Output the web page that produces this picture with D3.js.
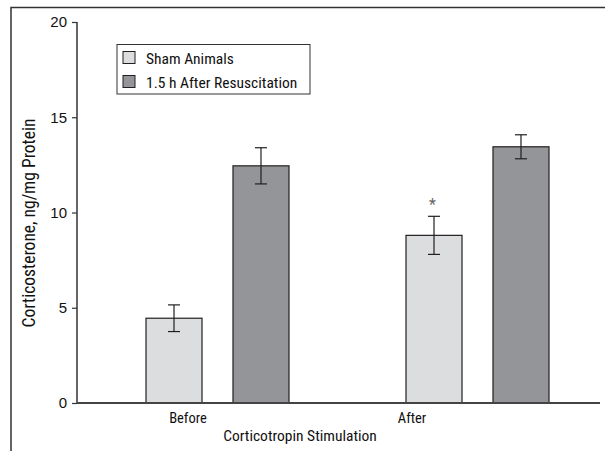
<!DOCTYPE html>
<html>
<head>
<meta charset="utf-8">
<script src="https://cdn.jsdelivr.net/npm/d3@7"></script>
<style>
  body { margin: 0; background: #fff; }
  svg { display: block; font-family: "Liberation Sans Narrow", "Arial Narrow", "Roboto Condensed", "Liberation Sans", sans-serif; }
</style>
</head>
<body>
<div id="chart"></div>
<script>
const categories = ['Before', 'After'];
const seriesNames = ['Sham Animals', '1.5 h After Resuscitation'];
const shamValues = [4.45, 8.8];
const shamErrors = [0.7, 1.0];
const resusValues = [12.45, 13.45];
const resusErrors = [0.95, 0.63];
const significant = [false, true]; // sham vs. resus markers
const yTicks = [0, 5, 10, 15, 20];

const width = 605, height = 451;
const margin = { left: 77, right: 3, top: 22, bottom: 48 };
const innerW = width - margin.left - margin.right;
const innerH = height - margin.top - margin.bottom;

const colors = ['#dcdddf', '#939598'];

const svg = d3.select('#chart').append('svg')
  .attr('width', width)
  .attr('height', height);

// frame (top and left edges)
svg.append('path')
  .attr('d', 'M11,451V7.5H605')
  .attr('fill', 'none')
  .attr('stroke', '#333')
  .attr('stroke-width', 1.5);

const g = svg.append('g')
  .attr('transform', 'translate(' + margin.left + ',' + margin.top + ')');

const x0 = d3.scaleBand().domain(categories).range([69, 472]).paddingInner(0.45).paddingOuter(0);
const x1 = d3.scaleBand().domain([0, 1]).range([0, x0.bandwidth()]).paddingInner(0.356);
const y = d3.scaleLinear().domain([0, 20]).range([innerH, 0]);

const data = categories.map((c, i) => ({
  cat: c,
  bars: [
    { s: 0, v: shamValues[i], e: shamErrors[i] },
    { s: 1, v: resusValues[i], e: resusErrors[i] }
  ]
}));

const groups = g.selectAll('.grp')
  .data(data)
  .enter()
  .append('g')
  .attr('class', 'grp')
  .attr('transform', d => 'translate(' + x0(d.cat) + ',0)');

groups.selectAll('rect')
  .data(d => d.bars)
  .enter()
  .append('rect')
  .attr('x', d => x1(d.s))
  .attr('y', d => y(d.v))
  .attr('width', x1.bandwidth())
  .attr('height', d => y(0) - y(d.v))
  .attr('fill', d => colors[d.s])
  .attr('stroke', '#231f20')
  .attr('stroke-width', 1.2);

// error bars
const err = groups.selectAll('.err')
  .data(d => d.bars)
  .enter()
  .append('g')
  .attr('class', 'err')
  .attr('stroke', '#231f20')
  .attr('stroke-width', 1.2);
const cx = d => x1(d.s) + x1.bandwidth() / 2;
err.append('line')
  .attr('x1', cx).attr('x2', cx)
  .attr('y1', d => y(d.v + d.e)).attr('y2', d => y(d.v - d.e));
err.append('line')
  .attr('x1', d => cx(d) - 6).attr('x2', d => cx(d) + 6)
  .attr('y1', d => y(d.v + d.e)).attr('y2', d => y(d.v + d.e));
err.append('line')
  .attr('x1', d => cx(d) - 6).attr('x2', d => cx(d) + 6)
  .attr('y1', d => y(d.v - d.e)).attr('y2', d => y(d.v - d.e));

// significance asterisk
groups.filter((d, i) => significant[i])
  .append('text')
  .attr('x', d => cx(d.bars[0]) - 1.5)
  .attr('y', d => y(d.bars[0].v + d.bars[0].e) - 6)
  .attr('text-anchor', 'middle')
  .attr('font-size', 16)
  .attr('fill', '#666')
  .text('*');

// axes
const yAxis = d3.axisLeft(y).tickValues(yTicks).tickSize(5).tickPadding(5);
g.append('g')
  .call(yAxis)
  .call(a => a.select('.domain').attr('stroke', '#333').attr('stroke-width', 1.5).attr('d', 'M0,0V' + innerH))
  .call(a => a.selectAll('.tick line').attr('stroke', '#333').attr('stroke-width', 1.2))
  .call(a => a.selectAll('.tick text').attr('font-size', 15).attr('fill', '#111').attr('font-family', 'inherit'));

g.append('line')
  .attr('x1', 0).attr('x2', innerW - 2)
  .attr('y1', y(0)).attr('y2', y(0))
  .attr('stroke', '#444')
  .attr('stroke-width', 2);

// category labels (placed left of group centre, as in the original)
const labelX = d3.scalePoint().domain(categories).range([111, 335]);
g.selectAll('.cat')
  .data(categories)
  .enter()
  .append('text')
  .attr('x', d => labelX(d))
  .attr('y', innerH + 20)
  .attr('text-anchor', 'middle')
  .attr('font-size', 14.5)
  .attr('fill', '#111')
  .text(d => d);

g.append('text')
  .attr('x', 223)
  .attr('y', innerH + 38)
  .attr('text-anchor', 'middle')
  .attr('font-size', 15.5)
  .attr('fill', '#111')
  .text('Corticotropin Stimulation');

svg.append('text')
  .attr('transform', 'translate(35,223) rotate(-90)')
  .attr('text-anchor', 'middle')
  .attr('font-size', 17.5)
  .attr('fill', '#111')
  .text('Corticosterone, ng/mg Protein');

// legend
const lg = svg.append('g').attr('transform', 'translate(117,44.5)');
lg.append('rect')
  .attr('width', 193).attr('height', 49.5)
  .attr('fill', '#fff').attr('stroke', '#333').attr('stroke-width', 1);
const items = lg.selectAll('.item')
  .data(seriesNames)
  .enter()
  .append('g')
  .attr('transform', (d, i) => 'translate(6,' + (7 + i * 24) + ')');
items.append('rect')
  .attr('width', 12).attr('height', 12)
  .attr('fill', (d, i) => colors[i])
  .attr('stroke', '#231f20').attr('stroke-width', 1);
items.append('text')
  .attr('x', 23).attr('y', 12)
  .attr('font-size', 15.5)
  .attr('fill', '#111')
  .text(d => d);
</script>
</body>
</html>
